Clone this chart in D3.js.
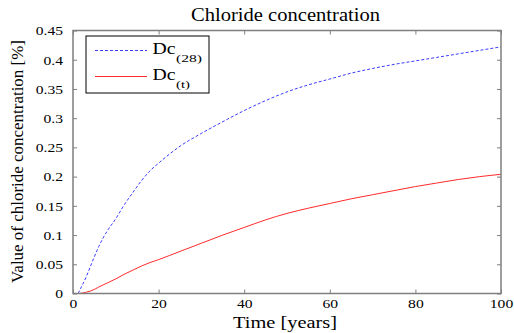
<!DOCTYPE html>
<html><head><meta charset="utf-8">
<script src="https://cdn.jsdelivr.net/npm/d3@7"></script>
<style>body{margin:0;background:#fff}svg{display:block}</style>
</head><body>
<svg id="c" width="514" height="333"></svg>
<script>
const years = [0,1,2,3,4,5,6,8,10,12,14,16,18,20,25,30,35,40,45,50,55,60,65,70,75,80,85,90,95,100];
const dc28 = [0,0,0.012,0.027,0.045,0.063,0.080,0.107,0.128,0.152,0.173,0.193,0.210,0.223,0.252,0.274,0.294,0.313,0.330,0.345,0.357,0.367,0.377,0.385,0.392,0.398,0.404,0.410,0.416,0.422];
const dct = [0,0,0.0005,0.002,0.004,0.007,0.011,0.018,0.025,0.033,0.040,0.047,0.053,0.058,0.072,0.086,0.100,0.113,0.126,0.137,0.146,0.154,0.162,0.169,0.176,0.183,0.189,0.195,0.200,0.204];
const xTicks = [0,20,40,60,80,100];
const yTicks = [0,0.05,0.1,0.15,0.2,0.25,0.3,0.35,0.4,0.45];
const yTickLabels = ["0","0.05","0.1","0.15","0.2","0.25","0.3","0.35","0.4","0.45"];
const title = "Chloride concentration";
const xLabel = "Time [years]";
const yLabel = "Value of chloride concentration [%]";
const legendNames = ["Dc","Dc"];
const legendSubs = ["(28)","(t)"];

const FF='"Liberation Serif"';
const L=73,R=501,T=30.5,B=293.5;
const svg=d3.select("#c");
const x=d3.scaleLinear().domain([0,100]).range([L,R]);
const y=d3.scaleLinear().domain([0,0.45]).range([B,T]);
const axisCol="#7f7f7f";
const blue="#3c3cff", red="#ff2a2a";

// lines
const line=(arr)=>d3.line().curve(d3.curveMonotoneX).x((d,i)=>x(years[i])).y((d)=>y(d))(arr);
svg.append("path").attr("d",line(dc28)).attr("fill","none").attr("stroke",blue).attr("stroke-width",1).attr("stroke-dasharray","3,2");
svg.append("path").attr("d",line(dct)).attr("fill","none").attr("stroke",red).attr("stroke-width",1);

// box
svg.append("rect").attr("x",L).attr("y",T).attr("width",R-L).attr("height",B-T).attr("fill","none").attr("stroke",axisCol).attr("stroke-width",1.5);

// axes with inward ticks
const gx=svg.append("g").attr("transform",`translate(0,${B})`).call(d3.axisBottom(x).tickValues(xTicks).tickSize(-4).tickPadding(6).tickFormat(d3.format("d")));
const gxt=svg.append("g").attr("transform",`translate(0,${T})`).call(d3.axisTop(x).tickValues(xTicks).tickSize(-4).tickFormat(""));
const gy=svg.append("g").attr("transform",`translate(${L},0)`).call(d3.axisLeft(y).tickValues(yTicks).tickSize(-4).tickFormat((d,i)=>yTickLabels[i]));
const gyr=svg.append("g").attr("transform",`translate(${R},0)`).call(d3.axisRight(y).tickValues(yTicks).tickSize(-4).tickFormat(""));
[gx,gxt,gy,gyr].forEach(g=>{
  g.attr("font-family",null).attr("font-size",null);
  g.select(".domain").remove();
  g.selectAll(".tick line").attr("stroke",axisCol);
  g.selectAll("text").style("font-family",FF).style("font-size","12.5px").attr("fill","#000").attr("transform","scale(1.25,1)");
});
gy.selectAll("text").attr("x",-8).attr("dy","0.35em");

// title & labels
svg.append("text").attr("x",191).attr("y",20.5).style("font-family",FF).style("font-size","18px")
  .attr("textLength",189).attr("lengthAdjust","spacingAndGlyphs").text(title);
svg.append("text").attr("x",233).attr("y",328).style("font-family",FF).style("font-size","16.5px")
  .attr("textLength",104).attr("lengthAdjust","spacingAndGlyphs").text(xLabel);
svg.append("text").attr("transform","translate(23,283) rotate(-90)").style("font-family",FF).style("font-size","16.5px")
  .attr("textLength",243).attr("lengthAdjust","spacingAndGlyphs").text(yLabel);

// legend
const lg=svg.append("g");
lg.append("rect").attr("x",86).attr("y",36).attr("width",123).attr("height",57).attr("fill","#fff").attr("stroke","#000").attr("stroke-width",1);
const lrows=[{c:blue,dash:"3,2",ly:50.5,ty:54,sy:61.5,sw:26},{c:red,dash:null,ly:76.5,ty:79.5,sy:88,sw:14}];
lrows.forEach((r,i)=>{
  const ln=lg.append("line").attr("x1",95).attr("x2",147).attr("y1",r.ly).attr("y2",r.ly).attr("stroke",r.c);
  if(r.dash) ln.attr("stroke-dasharray",r.dash);
  lg.append("text").attr("x",152.5).attr("y",r.ty).style("font-family",FF).style("font-size","17.5px")
    .attr("textLength",23).attr("lengthAdjust","spacingAndGlyphs").text(legendNames[i]);
  lg.append("text").attr("x",176).attr("y",r.sy).style("font-family",FF).style("font-size","11px")
    .attr("textLength",r.sw).attr("lengthAdjust","spacingAndGlyphs").text(legendSubs[i]);
});
</script>
</body></html>
